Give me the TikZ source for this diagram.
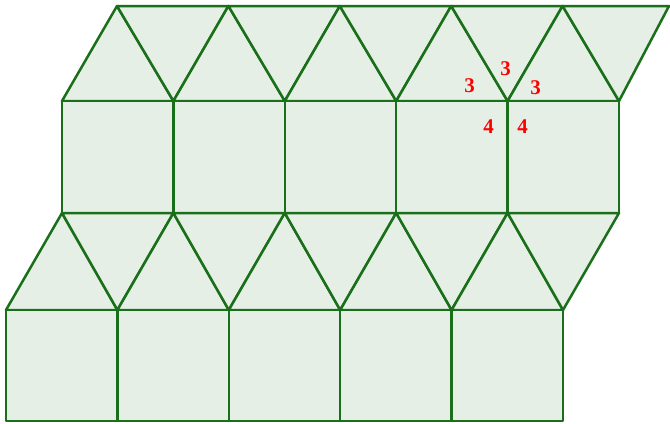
\documentclass[tikz,border=0pt]{standalone}
\usepackage{fontspec}
\setmainfont{Liberation Serif}
\definecolor{tilegreen}{HTML}{1A701A}
\definecolor{tilefill}{HTML}{E6EFE6}
\tikzset{tile/.style={draw=tilegreen,fill=tilefill,line width=2.5bp,line join=round}}
\tikzset{val/.style={text=red,font=\bfseries\fontsize{21}{21}\selectfont,inner sep=0pt}}

\begin{document}
\begin{tikzpicture}[x=1bp,y=-1bp]
    \useasboundingbox (0,0) rectangle (670,423);
    \foreach \i in {0,...,5} {
        \coordinate (a\i) at (117+111.4*\i,6);
        \coordinate (b\i) at (62+111.4*\i,101);
        \coordinate (c\i) at (62+111.4*\i,213);
        \coordinate (d\i) at (6+111.4*\i,310);
        \coordinate (e\i) at (6+111.4*\i,421);
    }
    \coordinate (a5) at (669,6);
    % triangles and squares, row by row
    \foreach \i [evaluate=\i as \j using int(\i+1)] in {0,...,4} {
        \draw[tile] (b\i) -- (a\i) -- (b\j) -- cycle;
        \draw[tile] (a\i) -- (a\j) -- (b\j) -- cycle;
        \draw[tile] (b\i) rectangle (c\j);
        \draw[tile] (d\i) -- (c\i) -- (d\j) -- cycle;
        \draw[tile] (c\i) -- (c\j) -- (d\j) -- cycle;
        \draw[tile] (d\i) rectangle (e\j);
    }
    % vertex labels
    \node[val] (t1) at ([shift={(-2,-32)}]b4) {3};
    \node[val] (t2) at ([shift={(-38,-15)}]b4) {3};
    \node[val] (t3) at ([shift={(28,-13)}]b4) {3};
    \node[val] (q1) at ([shift={(-19,26)}]b4) {4};
    \node[val] (q2) at ([shift={(15,26)}]b4) {4};
\end{tikzpicture}
\end{document}
